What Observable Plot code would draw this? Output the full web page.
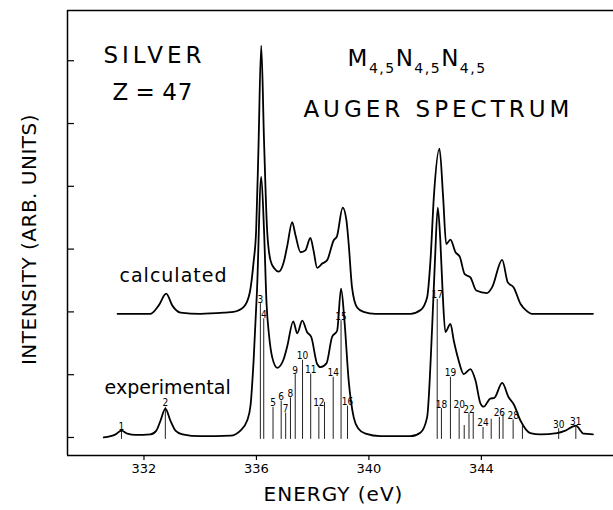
<!DOCTYPE html>
<html><head><meta charset="utf-8">
<script src="https://cdn.jsdelivr.net/npm/d3@7"></script>
<script src="https://cdn.jsdelivr.net/npm/@observablehq/plot@0.6"></script>
<style>
html,body{margin:0;padding:0;background:#fff;}
</style></head><body><div id="chart"></div>
<script>
// ---- data ----
const expEnergy = [330.57,330.99,331.20,331.41,331.70,332.23,332.44,332.59,332.76,332.94,333.12,333.37,334.01,335.08,335.43,335.67,335.79,335.90,336.02,336.17,336.27,336.36,336.45,336.56,336.74,336.97,337.09,337.31,337.45,337.63,337.80,337.95,338.16,338.28,338.49,338.69,338.87,339.01,339.13,339.28,339.46,339.63,339.88,340.41,341.48,341.84,342.07,342.25,342.35,342.45,342.54,342.62,342.72,342.90,343.02,343.19,343.37,343.61,343.79,343.97,344.08,344.32,344.46,344.74,344.97,345.15,345.39,345.74,346.10,346.69,346.99,347.36,347.64,347.97];
const expIntensity = [0.00,0.05,0.11,0.06,0.04,0.05,0.11,0.27,0.46,0.27,0.11,0.05,0.02,0.03,0.11,0.27,0.51,1.23,2.34,4.15,3.30,2.13,1.62,1.28,1.11,1.25,1.44,1.85,1.66,1.86,1.68,1.60,1.17,1.12,1.18,1.60,1.70,2.37,1.86,0.91,0.32,0.14,0.06,0.02,0.02,0.08,0.32,1.76,2.82,3.66,3.14,2.34,1.68,1.81,1.54,1.23,1.01,1.09,0.91,0.54,0.49,0.62,0.63,0.87,0.64,0.53,0.27,0.07,0.05,0.07,0.11,0.19,0.06,0.05];

const calcEnergy = [331.06,332.23,332.52,332.79,333.01,333.30,334.01,334.90,335.18,335.55,335.76,335.90,335.99,336.07,336.17,336.27,336.38,336.50,336.64,336.79,336.97,337.10,337.27,337.39,337.57,337.74,337.92,338.03,338.16,338.34,338.51,338.75,338.86,339.07,339.20,339.28,339.40,339.58,339.81,340.23,341.48,341.84,342.07,342.19,342.31,342.51,342.64,342.75,342.90,343.08,343.23,343.41,343.61,343.82,344.20,344.38,344.74,344.94,345.15,345.39,345.60,345.80,347.97];
const calcIntensity = [1.97,1.97,2.10,2.29,2.10,1.99,1.97,1.99,2.00,2.08,2.30,2.80,3.30,4.57,6.24,4.73,3.30,2.82,2.69,2.64,2.79,3.06,3.43,3.22,2.95,2.98,3.18,2.98,2.70,2.77,2.82,3.14,3.20,3.66,3.46,3.09,2.39,2.07,2.00,1.97,1.97,2.03,2.23,2.82,3.83,4.60,3.83,3.08,3.15,2.95,2.88,2.60,2.55,2.34,2.30,2.39,2.83,2.47,2.39,2.13,2.02,1.97,1.97];

const lineEnergy = [331.20,332.76,336.14,336.26,336.59,336.88,337.04,337.21,337.38,337.64,337.93,338.22,338.42,338.73,339.01,339.24,342.43,342.58,342.90,343.21,343.39,343.56,343.71,344.06,344.35,344.64,344.77,345.13,345.46,346.75,347.36];
const lineHeight = [0.10,0.48,2.13,1.89,0.48,0.58,0.39,0.63,1.00,1.23,1.01,0.48,0.56,0.96,1.86,0.50,2.20,0.46,0.96,0.46,0.19,0.38,0.38,0.16,0.29,0.32,0.37,0.28,0.18,0.14,0.19];
const lineLabels = ["1","2","3","4","5","6","7","8","9","10","11","12","","14","15","16","17","18","19","20","","22","","24","","26","","28","","30","31"];

const xTicks = [332, 336, 340, 344];
const yTicks = [0, 1, 2, 3, 4, 5, 6];

const annotText = ["SILVER", "Z = 47", "M4,5N4,5N4,5", "AUGER SPECTRUM"];
const annotEnergy = [330.56, 330.88, 339.24, 337.67];
const annotIntensity = [5.97, 5.37, 5.91, 5.10];
const seriesText = ["calculated", "experimental"];
const seriesEnergy = [331.13, 330.60];
const seriesIntensity = [2.47, 0.70];

// ---- tables ----
const expData = expEnergy.map((e, i) => ({E: e, v: expIntensity[i]}));
const calcData = calcEnergy.map((e, i) => ({E: e, v: calcIntensity[i]}));
const sticks = lineEnergy.map((e, i) => ({E: e, h: lineHeight[i], label: lineLabels[i]}));
const annots = annotText.map((t, i) => ({t, E: annotEnergy[i], v: annotIntensity[i]}));
const seriesAnn = seriesText.map((t, i) => ({t, E: seriesEnergy[i], v: seriesIntensity[i]}));

const W = 613, H = 510, ML = 67, MR = 0, MT = 10, MB = 55;
const xDomain = [329.28, 348.70];
const yDomain = [-0.287, 6.80];
const yTickLen = 7 * (xDomain[1] - xDomain[0]) / (W - ML - MR);

const chart = Plot.plot({
  width: W, height: H,
  marginLeft: ML, marginRight: MR, marginTop: MT, marginBottom: MB,
  x: {domain: xDomain},
  y: {domain: yDomain, axis: null},
  style: {fontFamily: "DejaVu Sans", background: "white", color: "black"},
  marks: [
    Plot.ruleY([yDomain[0], yDomain[1]], {strokeWidth: 1.5}),
    Plot.ruleX([xDomain[0]], {strokeWidth: 1.5}),
    Plot.ruleY(yTicks, {x1: xDomain[0], x2: xDomain[0] + yTickLen, strokeWidth: 1.2}),
    Plot.axisX(xTicks, {tickSize: 5, tickPadding: 3, fontSize: 13, label: null, strokeWidth: 1.2}),
    Plot.ruleX(sticks, {x: "E", y1: -0.03, y2: "h", stroke: "#222", strokeWidth: 1}),
    Plot.line(expData, {x: "E", y: "v", curve: "monotone-x", strokeWidth: 1.8}),
    Plot.line(calcData, {x: "E", y: "v", curve: "monotone-x", strokeWidth: 1.8}),
    Plot.text(sticks.filter(d => d.label), {x: "E", y: "h", text: "label", lineAnchor: "bottom", dy: -1, fontSize: 10, fontFamily: "DejaVu Sans Condensed, DejaVu Sans"}),
    Plot.text(annots, {x: "E", y: "v", text: "t", textAnchor: "start", lineAnchor: "bottom", fontSize: 23}),
    Plot.text(seriesAnn, {x: "E", y: "v", text: "t", textAnchor: "start", lineAnchor: "bottom", fontSize: 19}),
    Plot.text(["ENERGY (eV)"], {frameAnchor: "bottom", text: d => d, textAnchor: "middle", dx: -7, dy: 45, lineAnchor: "bottom", fontSize: 20}),
    Plot.text(["INTENSITY (ARB. UNITS)"], {frameAnchor: "left", text: d => d, textAnchor: "middle", rotate: -90, dx: -38, dy: 6.5, lineAnchor: "middle", fontSize: 20})
  ]
});

// letter spacing & subscripts
const spacing = {"SILVER": 4, "Z = 47": 1, "AUGER SPECTRUM": 4, "calculated": 1, "experimental": 0, "ENERGY (eV)": 1, "INTENSITY (ARB. UNITS)": 0.5};
d3.select(chart).selectAll("text").each(function() {
  const t = this.textContent;
  if (t in spacing) this.setAttribute("letter-spacing", spacing[t]);
  if (t === "Z = 47") this.setAttribute("word-spacing", -2);
  if (t === "M4,5N4,5N4,5") {
    const sel = d3.select(this);
    sel.text(null).attr("letter-spacing", 1.5);
    for (const main of ["M", "N", "N"]) {
      sel.append("tspan").attr("dy", main === "M" ? 0 : -7).text(main);
      sel.append("tspan").attr("font-size", 14).attr("dy", 7).text("4,5");
    }
  }
});
document.getElementById("chart").appendChild(chart);
</script></body></html>
